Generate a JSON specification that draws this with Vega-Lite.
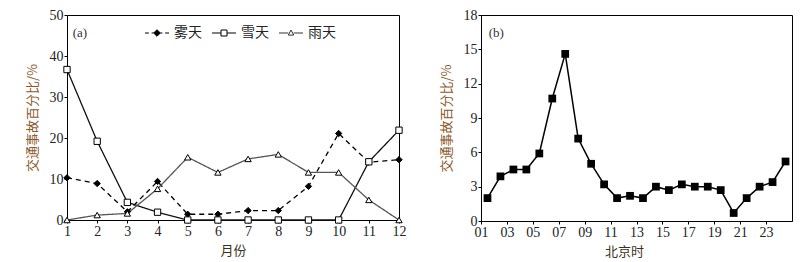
{
  "$schema": "https://vega.github.io/schema/vega-lite/v6.json",
  "background": "white",
  "padding": {"left": 25, "top": 7, "right": 0, "bottom": 0},
  "spacing": 32,
  "resolve": {"scale": {"shape": "independent", "fill": "independent", "stroke": "independent", "strokeDash": "independent"}, "legend": {"shape": "independent", "fill": "independent", "stroke": "independent", "strokeDash": "independent"}},
  "datasets": {
    "months": [
      {"month": 1, "weather": "雾天", "pct": 10.3},
      {"month": 2, "weather": "雾天", "pct": 8.9},
      {"month": 3, "weather": "雾天", "pct": 2.0},
      {"month": 4, "weather": "雾天", "pct": 9.4},
      {"month": 5, "weather": "雾天", "pct": 1.4},
      {"month": 6, "weather": "雾天", "pct": 1.4},
      {"month": 7, "weather": "雾天", "pct": 2.3},
      {"month": 8, "weather": "雾天", "pct": 2.3},
      {"month": 9, "weather": "雾天", "pct": 8.2},
      {"month": 10, "weather": "雾天", "pct": 21.1},
      {"month": 11, "weather": "雾天", "pct": 14.1},
      {"month": 12, "weather": "雾天", "pct": 14.7},
      {"month": 1, "weather": "雪天", "pct": 36.7},
      {"month": 2, "weather": "雪天", "pct": 19.2},
      {"month": 3, "weather": "雪天", "pct": 4.3},
      {"month": 4, "weather": "雪天", "pct": 1.9},
      {"month": 5, "weather": "雪天", "pct": 0},
      {"month": 6, "weather": "雪天", "pct": 0},
      {"month": 7, "weather": "雪天", "pct": 0},
      {"month": 8, "weather": "雪天", "pct": 0},
      {"month": 9, "weather": "雪天", "pct": 0},
      {"month": 10, "weather": "雪天", "pct": 0},
      {"month": 11, "weather": "雪天", "pct": 14.2},
      {"month": 12, "weather": "雪天", "pct": 21.9},
      {"month": 1, "weather": "雨天", "pct": 0},
      {"month": 2, "weather": "雨天", "pct": 1.2},
      {"month": 3, "weather": "雨天", "pct": 1.6},
      {"month": 4, "weather": "雨天", "pct": 7.6},
      {"month": 5, "weather": "雨天", "pct": 15.3},
      {"month": 6, "weather": "雨天", "pct": 11.6},
      {"month": 7, "weather": "雨天", "pct": 14.9},
      {"month": 8, "weather": "雨天", "pct": 16.0},
      {"month": 9, "weather": "雨天", "pct": 11.6},
      {"month": 10, "weather": "雨天", "pct": 11.6},
      {"month": 11, "weather": "雨天", "pct": 4.9},
      {"month": 12, "weather": "雨天", "pct": 0}
    ],
    "hours": [
      {"t": 1.5, "pct": 2.0},
      {"t": 2.5, "pct": 3.9},
      {"t": 3.5, "pct": 4.5},
      {"t": 4.5, "pct": 4.5},
      {"t": 5.5, "pct": 5.9},
      {"t": 6.5, "pct": 10.7},
      {"t": 7.5, "pct": 14.6},
      {"t": 8.5, "pct": 7.2},
      {"t": 9.5, "pct": 5.0},
      {"t": 10.5, "pct": 3.2},
      {"t": 11.5, "pct": 2.0},
      {"t": 12.5, "pct": 2.2},
      {"t": 13.5, "pct": 2.0},
      {"t": 14.5, "pct": 3.0},
      {"t": 15.5, "pct": 2.7},
      {"t": 16.5, "pct": 3.2},
      {"t": 17.5, "pct": 3.0},
      {"t": 18.5, "pct": 3.0},
      {"t": 19.5, "pct": 2.7},
      {"t": 20.5, "pct": 0.7},
      {"t": 21.5, "pct": 2.0},
      {"t": 22.5, "pct": 3.0},
      {"t": 23.5, "pct": 3.4},
      {"t": 24.5, "pct": 5.2}
    ]
  },
  "hconcat": [
    {
      "width": 332,
      "height": 205,
      "data": {"name": "months"},
      "resolve": {"scale": {"shape": "independent", "fill": "independent", "stroke": "independent"}, "legend": {"shape": "independent", "fill": "independent", "stroke": "independent"}},
      "layer": [
        {
          "mark": {"type": "line", "strokeWidth": 1.3},
          "encoding": {
            "x": {"field": "month", "type": "quantitative", "scale": {"domain": [1, 12], "nice": false, "zero": false},
                  "axis": {"values": [1,2,3,4,5,6,7,8,9,10,11,12], "format": "d", "tickCount": 40, "labelOverlap": false, "labelFlush": false, "labelBound": false, "title": "月份", "titlePadding": 6, "titleColor": "#3d3020"}},
            "y": {"field": "pct", "type": "quantitative", "scale": {"domain": [0, 50], "nice": false},
                  "axis": {"values": [0,10,20,30,40,50], "format": "d", "tickCount": 40, "labelOverlap": false, "labelBound": false, "title": "交通事故百分比/%", "titlePadding": 10, "titleColor": "#8a5a2c"}},
            "strokeDash": {"field": "weather", "type": "nominal", "scale": {"domain": ["雾天","雪天","雨天"], "range": [[5,4],[1,0],[1,0]]}, "legend": null},
            "stroke": {"field": "weather", "type": "nominal", "scale": {"domain": ["雾天","雪天","雨天"], "range": ["#000000","#111111","#555555"]}, "legend": null}
          }
        },
        {
          "mark": {"type": "point", "size": 40, "strokeWidth": 1, "opacity": 1, "stroke": "black"},
          "encoding": {
            "x": {"field": "month", "type": "quantitative"},
            "y": {"field": "pct", "type": "quantitative"},
            "shape": {"field": "weather", "type": "nominal", "scale": {"domain": ["雾天","雪天","雨天"], "range": ["diamond","square","triangle-up"]}, "legend": null},
            "fill": {"condition": {"test": "datum.weather === '雾天'", "value": "black"}, "value": "white"}
          }
        },
        {
          "data": {"values": []},
          "mark": {"type": "point", "filled": true, "size": 144, "strokeWidth": 1, "opacity": 1},
          "encoding": {
            "x": {"field": "month", "type": "quantitative"},
            "y": {"field": "pct", "type": "quantitative"},
            "shape": {"field": "weather", "type": "nominal",
              "scale": {"domain": ["雾天","雪天","雨天"], "range": [
                "M-1,0L-0.35,0M0.1,0L0.45,0M1.55,0L1.9,0M2.35,0L3,0M1,-0.55L1.55,0L1,0.55L0.45,0Z",
                "M-1,0L0.5,0M1.5,0L3,0M0.5,-0.5L1.5,-0.5L1.5,0.5L0.5,0.5Z",
                "M-1,0L0.55,0M1.45,0L3,0M1,-0.5L1.45,0.35L0.55,0.35Z"]},
              "legend": {
                "title": null, "orient": "none", "legendX": 77, "legendY": 11, "direction": "horizontal",
                "symbolSize": 144, "labelOffset": 16, "columnPadding": 8,
                "labelFont": "Noto Sans CJK SC", "labelFontSize": 14, "labelColor": "#222222",
                "symbolStrokeWidth": 1, "symbolOpacity": 1
              }},
            "fill": {"field": "weather", "type": "nominal",
              "scale": {"domain": ["雾天","雪天","雨天"], "range": ["black","white","white"]},
              "legend": {
                "title": null, "orient": "none", "legendX": 77, "legendY": 11, "direction": "horizontal",
                "symbolSize": 144, "labelOffset": 16, "columnPadding": 8,
                "labelFont": "Noto Sans CJK SC", "labelFontSize": 14, "labelColor": "#222222",
                "symbolStrokeWidth": 1, "symbolOpacity": 1
              }},
            "stroke": {"field": "weather", "type": "nominal",
              "scale": {"domain": ["雾天","雪天","雨天"], "range": ["black","black","#333333"]},
              "legend": {
                "title": null, "orient": "none", "legendX": 77, "legendY": 11, "direction": "horizontal",
                "symbolSize": 144, "labelOffset": 16, "columnPadding": 8,
                "labelFont": "Noto Sans CJK SC", "labelFontSize": 14, "labelColor": "#222222",
                "symbolStrokeWidth": 1, "symbolOpacity": 1
              }}
          }
        },
        {
          "data": {"values": [{}]},
          "mark": {"type": "text", "font": "Liberation Serif", "fontSize": 13, "color": "#333333", "align": "center", "baseline": "middle"},
          "encoding": {
            "x": {"datum": 1.43, "type": "quantitative"},
            "y": {"datum": 45.6, "type": "quantitative"},
            "text": {"value": "(a)"}
          }
        }
      ]
    },
    {
      "width": 311,
      "height": 206,
      "data": {"name": "hours"},
      "layer": [
        {
          "mark": {"type": "line", "color": "black", "strokeWidth": 1.5},
          "encoding": {
            "x": {"field": "t", "type": "quantitative", "scale": {"domain": [1, 25], "nice": false, "zero": false},
                  "axis": {"values": [1,3,5,7,9,11,13,15,17,19,21,23], "tickCount": 40, "labelOverlap": false, "labelFlush": false, "labelBound": false, "labelExpr": "datum.value < 10 ? '0' + datum.value : '' + datum.value", "title": "北京时", "titlePadding": 6, "titleColor": "#3d3020", "titleX": 143}},
            "y": {"field": "pct", "type": "quantitative", "scale": {"domain": [0, 18], "nice": false},
                  "axis": {"values": [0,3,6,9,12,15,18], "format": "d", "tickCount": 40, "labelOverlap": false, "labelBound": false, "title": "交通事故百分比/%", "titlePadding": 10, "titleColor": "#8a5a2c"}}
          }
        },
        {
          "mark": {"type": "point", "shape": "square", "filled": true, "color": "black", "size": 60, "opacity": 1},
          "encoding": {
            "x": {"field": "t", "type": "quantitative"},
            "y": {"field": "pct", "type": "quantitative"}
          }
        },
        {
          "data": {"values": [{}]},
          "mark": {"type": "text", "font": "Liberation Serif", "fontSize": 13, "color": "#333333", "align": "center", "baseline": "middle"},
          "encoding": {
            "x": {"datum": 2.18, "type": "quantitative"},
            "y": {"datum": 16.43, "type": "quantitative"},
            "text": {"value": "(b)"}
          }
        }
      ]
    }
  ],
  "config": {
    "view": {"stroke": "black", "strokeWidth": 1},
    "axis": {
      "grid": false,
      "domainColor": "black",
      "domainWidth": 1,
      "tickColor": "black",
      "tickSize": 3,
      "tickWidth": 1,
      "labelFont": "Liberation Serif",
      "labelFontSize": 14,
      "labelColor": "#222222",
      "labelPadding": 1,
      "labelOverlap": false,
      "titleFont": "Noto Sans CJK SC",
      "titleFontSize": 13,
      "titleFontWeight": "normal"
    }
  }
}
